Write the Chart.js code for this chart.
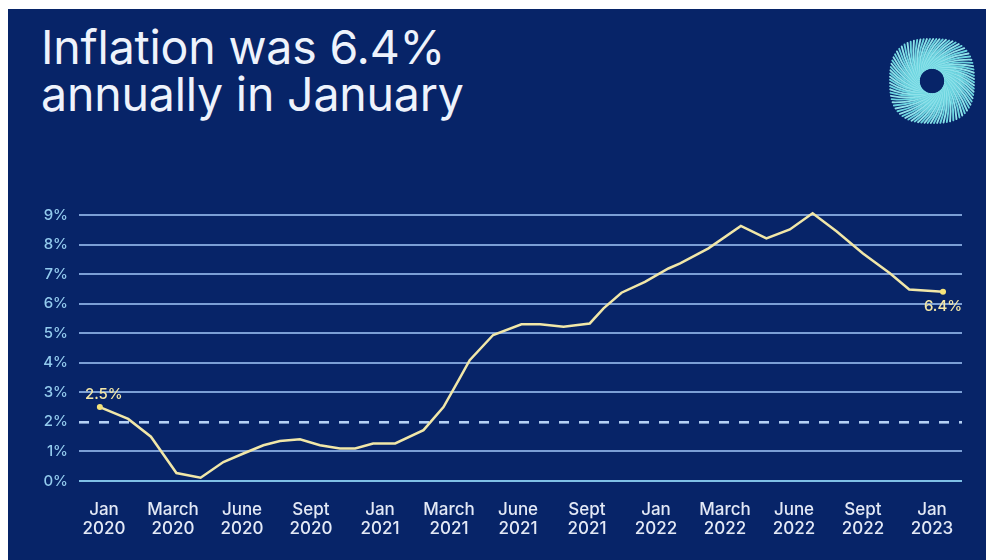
<!DOCTYPE html>
<html>
<head>
<meta charset="utf-8">
<script src="https://cdn.jsdelivr.net/npm/chart.js@4/dist/chart.umd.min.js"></script>
<style>
  html, body { margin:0; padding:0; background:#fff; }
  body { width:986px; height:560px; position:relative; overflow:hidden; }
  #panel { position:absolute; left:8px; top:9px; width:978px; height:551px; background:#072468; }
  #title { position:absolute; left:33px; top:15px; margin:0; font-family:Inter, "Noto Sans", sans-serif;
    font-weight:400; font-size:46.5px; line-height:47px; color:#eef3fc; letter-spacing:-0.2px; }
  #chart { position:absolute; left:0; top:0; }
  #logo { position:absolute; left:869px; top:17px; }
</style>
</head>
<body>
<div id="panel">
  <h1 id="title">Inflation was 6.4%<br>annually in January</h1>
  <canvas id="logo" width="110" height="110"></canvas>
  <canvas id="chart" width="978" height="551"></canvas>
</div>
<script>
// axis labels (evenly spaced in the original)
const tickLabels = [
  ["Jan","2020"],["March","2020"],["June","2020"],["Sept","2020"],
  ["Jan","2021"],["March","2021"],["June","2021"],["Sept","2021"],
  ["Jan","2022"],["March","2022"],["June","2022"],["Sept","2022"],["Jan","2023"]
];
const tickPos = [0,1,2,3,4,5,6,7,8,9,10,11,12];

// x position of each reading, in units of the label spacing
const xPos = [-0.06,0.35,0.68,1.05,1.40,1.73,2.02,2.31,2.55,2.84,3.13,3.42,3.64,
  3.90,4.22,4.63,4.92,5.14,5.30,5.64,6.05,6.32,6.66,7.04,7.24,7.50,7.84,8.18,
  8.35,8.76,9.23,9.60,9.94,10.27,10.62,11.00,11.39,11.67,12.16];
// annual inflation, %
const inflation = [2.5,2.1,1.5,0.27,0.11,0.64,0.93,1.21,1.35,1.41,1.21,1.1,1.1,
  1.27,1.27,1.72,2.5,3.41,4.09,4.94,5.3,5.3,5.22,5.33,5.84,6.37,6.74,7.19,
  7.36,7.87,8.63,8.21,8.51,9.06,8.44,7.7,7.03,6.48,6.4];
const firstLabel = "2.5%";
const lastLabel = "6.4%";
const targetRate = 2;

const points = xPos.map((x,i)=>({x:x, y:inflation[i]}));
const lastIdx = points.length-1;

const endLabels = {
  id:'endLabels',
  afterDatasetsDraw(chart){
    const ctx = chart.ctx;
    const pts = chart.getDatasetMeta(0).data;
    ctx.save();
    ctx.font = '500 15px Inter, "Noto Sans", sans-serif';
    ctx.fillStyle = '#f4e7a6';
    ctx.textAlign = 'center';
    ctx.textBaseline = 'middle';
    ctx.fillText(firstLabel, pts[0].x+4, pts[0].y-13);
    ctx.fillText(lastLabel, pts[lastIdx].x, pts[lastIdx].y+15);
    ctx.restore();
  }
};

const isTarget = c => c.tick && c.tick.value===targetRate;

new Chart(document.getElementById('chart'), {
  type:'line',
  data:{ datasets:[{
    data: points,
    clip:false,
    borderColor:'#f1e7a8',
    borderWidth:2.5,
    tension:0,
    pointRadius: c => (c.dataIndex===0 || c.dataIndex===lastIdx) ? 3 : 0,
    pointBackgroundColor:'#f4e37a',
    pointBorderWidth:0
  }]},
  options:{
    responsive:false,
    animation:false,
    layout:{ padding:{ left:0, right:24, top:206, bottom:0 } },
    plugins:{ legend:{display:false}, tooltip:{enabled:false} },
    scales:{
      x:{
        type:'linear',
        min:-0.3623, max:12.435,
        afterBuildTicks: axis => { axis.ticks = tickPos.map(v=>({value:v})); },
        afterFit: s => { s.height = 79; },
        grid:{ display:false },
        border:{ display:false },
        ticks:{
          autoSkip:false, maxRotation:0, padding:11,
          color:'#e3e9f6',
          font:{ family:'Inter, "Noto Sans", sans-serif', size:17, weight:'500', lineHeight:1.12 },
          callback:(v,i)=>tickLabels[i]
        }
      },
      y:{
        min:0, max:9,
        afterFit: s => { s.width = 71; },
        grid:{
          drawTicks:false,
          lineWidth: c => isTarget(c) ? 2.6 : 2,
          color: c => c.tick && c.tick.value===0 ? '#7fc0e6' : (isTarget(c) ? '#b4d0f4' : '#7b9fd6')
        },
        border:{ display:false, dash: c => isTarget(c) ? [10,10] : [] },
        ticks:{
          stepSize:1, padding:11,
          color:'#93cbee',
          font:{ family:'Inter, "Noto Sans", sans-serif', size:15, weight:'500' },
          callback:v=>v+'%'
        }
      }
    }
  },
  plugins:[endLabels]
});

// logo: twisted ring of rays
(function(){
  const c = document.getElementById('logo').getContext('2d');
  const cx = 55, cy = 55;
  const rays = 84;
  c.lineWidth = 1.9;
  c.lineCap = 'round';
  for(let i=0;i<rays;i++){
    const a = i/rays*Math.PI*2;
    const b = a + 1.0;
    const rOut = 44*(1-0.045*Math.cos(4*b));
    const r0 = 13;
    c.strokeStyle = i%2 ? '#6cd5e0' : '#8fe2ea';
    c.beginPath();
    c.moveTo(cx+Math.cos(a)*r0, cy+Math.sin(a)*r0);
    c.quadraticCurveTo(cx+Math.cos(a+0.6)*28, cy+Math.sin(a+0.6)*28, cx+Math.cos(b)*rOut, cy+Math.sin(b)*rOut);
    c.stroke();
  }
  c.fillStyle = '#072468';
  c.beginPath(); c.arc(cx,cy,12,0,Math.PI*2); c.fill();
})();
</script>
</body>
</html>
